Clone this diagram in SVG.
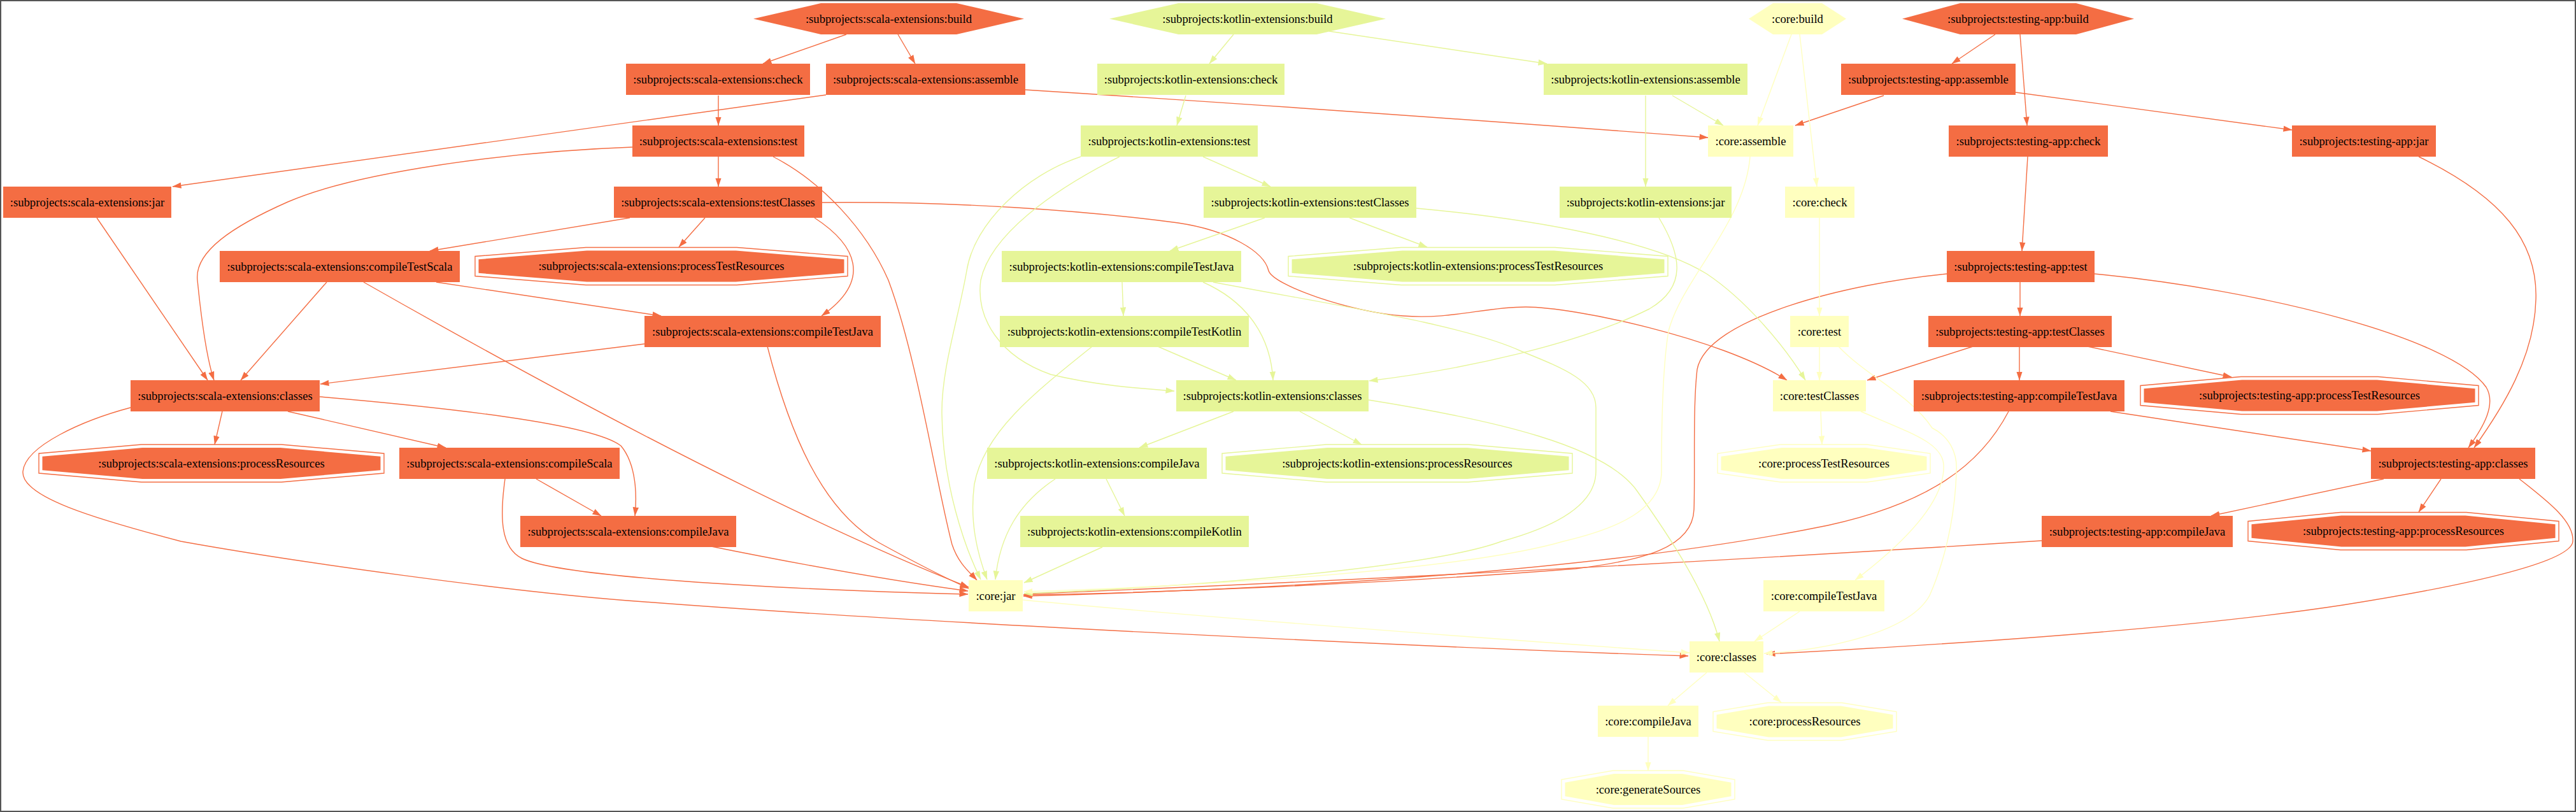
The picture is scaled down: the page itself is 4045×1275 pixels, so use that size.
<svg xmlns="http://www.w3.org/2000/svg" width="4045" height="1275" viewBox="0 0 4045 1275">
<defs>
<style>
.o{fill:#f46d43}.g{fill:#e6f598}.y{fill:#ffffbf}
.oo{fill:none;stroke:#f46d43;stroke-width:1.4}.og{fill:none;stroke:#e6f598;stroke-width:1.4}.oy{fill:none;stroke:#ffffbf;stroke-width:1.4}
text{font-family:"Liberation Serif","Times New Roman",serif;font-size:18.67px;text-anchor:middle;fill:#000}
.eo{fill:none;stroke:#f46d43;stroke-width:1.4;marker-end:url(#ao)}
.eg{fill:none;stroke:#e6f598;stroke-width:1.4;marker-end:url(#ag)}
.ey{fill:none;stroke:#ffffbf;stroke-width:1.4;marker-end:url(#ay)}
</style>
<marker id="ao" markerUnits="userSpaceOnUse" markerWidth="14" markerHeight="10" refX="13.5" refY="5" orient="auto" viewBox="0 0 14 10"><path d="M0,0.3 L14,5 L0,9.7 z" fill="#f46d43"/></marker>
<marker id="ag" markerUnits="userSpaceOnUse" markerWidth="14" markerHeight="10" refX="13.5" refY="5" orient="auto" viewBox="0 0 14 10"><path d="M0,0.3 L14,5 L0,9.7 z" fill="#e6f598"/></marker>
<marker id="ay" markerUnits="userSpaceOnUse" markerWidth="14" markerHeight="10" refX="13.5" refY="5" orient="auto" viewBox="0 0 14 10"><path d="M0,0.3 L14,5 L0,9.7 z" fill="#ffffbf"/></marker>
</defs>
<rect x="1" y="1" width="4043" height="1273" fill="#fff" stroke="#555" stroke-width="2"/>

<g id="edges">
<path class="eo" d="M1329,54 L1198,100"/>
<path class="eo" d="M1410,54 L1437,100"/>
<path class="eo" d="M1297,149 L271,293"/>
<path class="eo" d="M1610,141 Q2100,172 2682,216"/>
<path class="eo" d="M1128,150 L1128,197"/>
<path class="eo" d="M1128,246 L1128,293"/>
<path class="eo" d="M1214,246 C1290,285 1360,360 1395,440 C1440,560 1470,760 1495,855 C1505,885 1522,898 1534,911"/>
<path class="eo" d="M993,231 C800,238 560,270 452,317 C366,355 305,395 310,440 C314,480 322,555 336,597"/>
<path class="eo" d="M152,342 L326,597"/>
<path class="eo" d="M989,342 L675,394"/>
<path class="eo" d="M1107,342 L1066,388"/>
<path class="eo" d="M1279,342 C1345,385 1370,440 1290,496"/>
<path class="eo" d="M1291,318 C1500,316 1700,330 1850,350 C1930,362 1985,395 1992,425 C1999,448 2120,490 2203,496 C2280,502 2330,482 2396,482 C2470,482 2700,530 2806,597"/>
<path class="eo" d="M513,443 L378,597"/>
<path class="eo" d="M571,443 C900,630 1250,815 1521,922"/>
<path class="eo" d="M685,443 L1038,496"/>
<path class="eo" d="M1012,540 L503,603"/>
<path class="eo" d="M1205,544 C1240,680 1290,800 1380,852 C1440,885 1490,910 1521,924"/>
<path class="eo" d="M349,646 L337,698"/>
<path class="eo" d="M452,646 L700,703"/>
<path class="eo" d="M502,623 C700,640 930,665 975,700 C1000,730 1000,780 997,810"/>
<path class="eo" d="M205,640 C130,660 40,700 36,740 C32,780 150,815 284,850 C450,880 800,930 1012,945 C1400,975 2200,1015 2651,1030"/>
<path class="eo" d="M842,752 L944,810"/>
<path class="eo" d="M793,752 C785,810 785,860 820,877 C880,905 1200,925 1520,933"/>
<path class="eo" d="M1117,858 Q1350,905 1520,928"/>
<path class="eo" d="M3133,54 L3065,100"/>
<path class="eo" d="M3172,54 L3183,197"/>
<path class="eo" d="M2958,150 L2819,197"/>
<path class="eo" d="M3165,145 L3599,204"/>
<path class="eo" d="M3184,246 L3175,394"/>
<path class="eo" d="M3798,246 C3930,310 3985,380 3982,470 C3980,560 3930,640 3885,703"/>
<path class="eo" d="M3172,443 L3172,496"/>
<path class="eo" d="M3289,430 C3550,455 3850,530 3904,608 C3920,635 3900,670 3876,703"/>
<path class="eo" d="M3057,430 C2900,445 2680,500 2665,580 C2658,640 2662,740 2660,800 C2658,860 2580,880 2474,893 C2200,915 1800,932 1607,934"/>
<path class="eo" d="M3098,544 L2932,597"/>
<path class="eo" d="M3171,544 L3171,597"/>
<path class="eo" d="M3278,544 L3504,592"/>
<path class="eo" d="M3154,646 C3110,730 3030,790 2870,825 C2600,880 2200,920 1607,936"/>
<path class="eo" d="M3314,646 L3723,708"/>
<path class="eo" d="M3743,752 L3472,810"/>
<path class="eo" d="M3833,752 L3798,804"/>
<path class="eo" d="M3956,752 C4005,790 4042,820 4040,850 C4038,880 3900,915 3679,950 C3450,985 3100,1010 2774,1027"/>
<path class="eo" d="M3206,849 Q2400,900 1608,933"/>
<path class="eg" d="M1937,54 L1899,100"/>
<path class="eg" d="M2087,49 L2429,100"/>
<path class="eg" d="M1862,150 L1848,197"/>
<path class="eg" d="M1889,246 L1995,293"/>
<path class="eg" d="M1758,246 C1650,300 1555,370 1540,440 C1532,500 1570,560 1650,588 C1720,605 1790,610 1844,614"/>
<path class="eg" d="M1697,246 C1610,275 1530,350 1518,425 C1505,500 1478,580 1479,650 C1480,760 1515,860 1540,910"/>
<path class="eg" d="M1986,342 L1837,394"/>
<path class="eg" d="M2119,342 L2241,388"/>
<path class="eg" d="M2224,327 C2420,345 2600,380 2680,430 C2740,470 2800,540 2835,597"/>
<path class="eg" d="M1762,443 L1764,496"/>
<path class="eg" d="M1889,443 C1950,470 1995,520 1999,597"/>
<path class="eg" d="M1905,443 C2100,480 2300,510 2390,552 C2460,580 2506,600 2506,640 L2506,740 C2506,790 2450,825 2358,850 C2250,890 1900,920 1608,932"/>
<path class="eg" d="M1818,544 L1941,597"/>
<path class="eg" d="M1715,544 C1620,620 1545,680 1530,760 C1522,820 1535,870 1550,910"/>
<path class="eg" d="M1937,646 L1789,703"/>
<path class="eg" d="M2041,646 L2138,698"/>
<path class="eg" d="M2149,628 C2350,660 2520,700 2570,770 C2620,840 2680,930 2700,1007"/>
<path class="eg" d="M1737,752 L1766,810"/>
<path class="eg" d="M1657,752 C1600,790 1570,840 1563,910"/>
<path class="eg" d="M1731,859 L1608,915"/>
<path class="eg" d="M2605,342 C2640,400 2650,450 2590,485 C2480,540 2300,580 2150,598"/>
<path class="eg" d="M2584,150 L2584,293"/>
<path class="eg" d="M2626,150 L2706,197"/>
<path class="ey" d="M2813,54 L2760,197"/>
<path class="ey" d="M2826,54 L2853,293"/>
<path class="ey" d="M2857,342 L2857,496"/>
<path class="ey" d="M2857,544 L2857,597"/>
<path class="ey" d="M2859,646 L2861,698"/>
<path class="ey" d="M2748,246 C2740,350 2640,440 2620,520 C2610,580 2609,680 2609,740 C2609,800 2540,830 2455,850 C2300,895 1900,920 1608,929"/>
<path class="ey" d="M2887,544 C2930,590 3000,620 3034,672 C3060,685 3074,710 3072,740 C3070,820 3050,890 3030,935 C3000,990 2880,1020 2770,1026"/>
<path class="ey" d="M2922,646 C3000,680 3050,695 3052,730 C3055,790 2980,860 2913,911"/>
<path class="ey" d="M2826,960 L2755,1007"/>
<path class="ey" d="M1606,942 C1900,970 2300,1000 2653,1025"/>
<path class="ey" d="M2680,1056 L2619,1108"/>
<path class="ey" d="M2739,1056 L2797,1103"/>
<path class="ey" d="M2588,1157 L2588,1210"/>
</g>

<g id="s_build"><polygon class="o" points="1183,29.5 1289,5 1502,5 1608,29.5 1502,54 1289,54"/><text x="1395.5" y="35.5">:subprojects:scala-extensions:build</text></g>
<g id="s_check"><rect class="o" x="983" y="100" width="289" height="49"/><text x="1127.5" y="130.5">:subprojects:scala-extensions:check</text></g>
<g id="s_assemble"><rect class="o" x="1297" y="100" width="313" height="49"/><text x="1453.5" y="130.5">:subprojects:scala-extensions:assemble</text></g>
<g id="s_test"><rect class="o" x="993" y="197" width="270" height="49"/><text x="1128" y="227.5">:subprojects:scala-extensions:test</text></g>
<g id="s_jar"><rect class="o" x="5" y="293" width="264" height="49"/><text x="137" y="323.5">:subprojects:scala-extensions:jar</text></g>
<g id="s_testClasses"><rect class="o" x="964" y="293" width="327" height="49"/><text x="1127.5" y="323.5">:subprojects:scala-extensions:testClasses</text></g>
<g id="s_compileTestScala"><rect class="o" x="345" y="394" width="377" height="49"/><text x="533.5" y="424.5">:subprojects:scala-extensions:compileTestScala</text></g>
<g id="s_processTestResources"><polygon class="oo" points="920,388.5 1157,388.5 1331,402.5 1331,433.5 1157,447.5 920,447.5 746,433.5 746,402.5"/><polygon class="o" points="921.5,393.5 1155.5,393.5 1325.5,407.2 1325.5,428.8 1155.5,442.5 921.5,442.5 751.5,428.8 751.5,407.2"/><text x="1038.5" y="424">:subprojects:scala-extensions:processTestResources</text></g>
<g id="s_compileTestJava"><rect class="o" x="1012" y="496" width="371" height="49"/><text x="1197.5" y="526.5">:subprojects:scala-extensions:compileTestJava</text></g>
<g id="s_classes"><rect class="o" x="205" y="597" width="297" height="49"/><text x="353.5" y="627.5">:subprojects:scala-extensions:classes</text></g>
<g id="s_processResources"><polygon class="oo" points="222.2,698 441.8,698 603,712 603,743 441.8,757 222.2,757 61,743 61,712"/><polygon class="o" points="223.7,703 440.3,703 597.5,716.7 597.5,738.3 440.3,752 223.7,752 66.5,738.3 66.5,716.7"/><text x="332" y="733.5">:subprojects:scala-extensions:processResources</text></g>
<g id="s_compileScala"><rect class="o" x="627" y="703" width="346" height="49"/><text x="800" y="733.5">:subprojects:scala-extensions:compileScala</text></g>
<g id="s_compileJava"><rect class="o" x="817" y="810" width="339" height="49"/><text x="986.5" y="840.5">:subprojects:scala-extensions:compileJava</text></g>

<g id="k_build"><polygon class="g" points="1742,29.5 1850.5,5 2067.5,5 2176,29.5 2067.5,54 1850.5,54"/><text x="1959" y="35.5">:subprojects:kotlin-extensions:build</text></g>
<g id="k_check"><rect class="g" x="1723" y="100" width="294" height="49"/><text x="1870" y="130.5">:subprojects:kotlin-extensions:check</text></g>
<g id="k_assemble"><rect class="g" x="2424" y="100" width="320" height="49"/><text x="2584" y="130.5">:subprojects:kotlin-extensions:assemble</text></g>
<g id="k_test"><rect class="g" x="1697" y="197" width="278" height="49"/><text x="1836" y="227.5">:subprojects:kotlin-extensions:test</text></g>
<g id="k_testClasses"><rect class="g" x="1890" y="293" width="334" height="49"/><text x="2057" y="323.5">:subprojects:kotlin-extensions:testClasses</text></g>
<g id="k_jar"><rect class="g" x="2449" y="293" width="270" height="49"/><text x="2584" y="323.5">:subprojects:kotlin-extensions:jar</text></g>
<g id="k_processTestResources"><polygon class="og" points="2200.3,388.5 2441.7,388.5 2619,402.5 2619,433.5 2441.7,447.5 2200.3,447.5 2023,433.5 2023,402.5"/><polygon class="g" points="2201.8,393.5 2440.2,393.5 2613.5,407.2 2613.5,428.8 2440.2,442.5 2201.8,442.5 2028.5,428.8 2028.5,407.2"/><text x="2321" y="424">:subprojects:kotlin-extensions:processTestResources</text></g>
<g id="k_compileTestJava"><rect class="g" x="1573" y="394" width="376" height="49"/><text x="1761" y="424.5">:subprojects:kotlin-extensions:compileTestJava</text></g>
<g id="k_compileTestKotlin"><rect class="g" x="1570" y="496" width="391" height="49"/><text x="1765.5" y="526.5">:subprojects:kotlin-extensions:compileTestKotlin</text></g>
<g id="k_classes"><rect class="g" x="1847" y="597" width="302" height="49"/><text x="1998" y="627.5">:subprojects:kotlin-extensions:classes</text></g>
<g id="k_compileJava"><rect class="g" x="1550" y="703" width="345" height="49"/><text x="1722.5" y="733.5">:subprojects:kotlin-extensions:compileJava</text></g>
<g id="k_processResources"><polygon class="og" points="2082.6,698 2305.4,698 2469,712 2469,743 2305.4,757 2082.6,757 1919,743 1919,712"/><polygon class="g" points="2084.1,703 2303.9,703 2463.5,716.7 2463.5,738.3 2303.9,752 2084.1,752 1924.5,738.3 1924.5,716.7"/><text x="2194" y="733.5">:subprojects:kotlin-extensions:processResources</text></g>
<g id="k_compileKotlin"><rect class="g" x="1602" y="810" width="359" height="49"/><text x="1781.5" y="840.5">:subprojects:kotlin-extensions:compileKotlin</text></g>

<g id="c_build"><polygon class="y" points="2746,29.5 2784,5 2861,5 2899,29.5 2861,54 2784,54"/><text x="2822.5" y="35.5">:core:build</text></g>
<g id="c_assemble"><rect class="y" x="2682" y="197" width="134" height="49"/><text x="2749" y="227.5">:core:assemble</text></g>
<g id="c_check"><rect class="y" x="2803" y="293" width="109" height="49"/><text x="2857.5" y="323.5">:core:check</text></g>
<g id="c_test"><rect class="y" x="2811" y="496" width="92" height="49"/><text x="2857" y="526.5">:core:test</text></g>
<g id="c_testClasses"><rect class="y" x="2784" y="597" width="146" height="49"/><text x="2857" y="627.5">:core:testClasses</text></g>
<g id="c_processTestResources"><polygon class="oy" points="2796.4,698 2931.6,698 3031,712 3031,743 2931.6,757 2796.4,757 2697,743 2697,712"/><polygon class="y" points="2797.9,703 2930.1,703 3025.5,716.7 3025.5,738.3 2930.1,752 2797.9,752 2702.5,738.3 2702.5,716.7"/><text x="2864" y="733.5">:core:processTestResources</text></g>
<g id="c_jar"><rect class="y" x="1521" y="911" width="85" height="49"/><text x="1563.5" y="941.5">:core:jar</text></g>
<g id="c_compileTestJava"><rect class="y" x="2769" y="911" width="190" height="49"/><text x="2864" y="941.5">:core:compileTestJava</text></g>
<g id="c_classes"><rect class="y" x="2653" y="1007" width="116" height="49"/><text x="2711" y="1037.5">:core:classes</text></g>
<g id="c_compileJava"><rect class="y" x="2509" y="1108" width="158" height="49"/><text x="2588" y="1138.5">:core:compileJava</text></g>
<g id="c_processResources"><polygon class="oy" points="2775.7,1103.5 2892.3,1103.5 2978,1117.5 2978,1148.5 2892.3,1162.5 2775.7,1162.5 2690,1148.5 2690,1117.5"/><polygon class="y" points="2777.2,1108.5 2890.8,1108.5 2972.5,1122.2 2972.5,1143.8 2890.8,1157.5 2777.2,1157.5 2695.5,1143.8 2695.5,1122.2"/><text x="2834" y="1139">:core:processResources</text></g>
<g id="c_generateSources"><polygon class="oy" points="2532.9,1210 2643.1,1210 2724,1224 2724,1255 2643.1,1269 2532.9,1269 2452,1255 2452,1224"/><polygon class="y" points="2534.4,1215 2641.6,1215 2718.5,1228.7 2718.5,1250.3 2641.6,1264 2534.4,1264 2457.5,1250.3 2457.5,1228.7"/><text x="2588" y="1245.5">:core:generateSources</text></g>

<g id="t_build"><polygon class="o" points="2987,29.5 3078,5 3260,5 3351,29.5 3260,54 3078,54"/><text x="3169" y="35.5">:subprojects:testing-app:build</text></g>
<g id="t_assemble"><rect class="o" x="2891" y="100" width="274" height="49"/><text x="3028" y="130.5">:subprojects:testing-app:assemble</text></g>
<g id="t_check"><rect class="o" x="3060" y="197" width="250" height="49"/><text x="3185" y="227.5">:subprojects:testing-app:check</text></g>
<g id="t_jar"><rect class="o" x="3599" y="197" width="226" height="49"/><text x="3712" y="227.5">:subprojects:testing-app:jar</text></g>
<g id="t_test"><rect class="o" x="3057" y="394" width="232" height="49"/><text x="3173" y="424.5">:subprojects:testing-app:test</text></g>
<g id="t_testClasses"><rect class="o" x="3028" y="496" width="288" height="49"/><text x="3172" y="526.5">:subprojects:testing-app:testClasses</text></g>
<g id="t_compileTestJava"><rect class="o" x="3005" y="597" width="331" height="49"/><text x="3170.5" y="627.5">:subprojects:testing-app:compileTestJava</text></g>
<g id="t_processTestResources"><polygon class="oo" points="3519,591.5 3734,591.5 3892,605.5 3892,636.5 3734,650.5 3519,650.5 3361,636.5 3361,605.5"/><polygon class="o" points="3520.5,596.5 3732.5,596.5 3886.5,610.2 3886.5,631.8 3732.5,645.5 3520.5,645.5 3366.5,631.8 3366.5,610.2"/><text x="3626.5" y="627">:subprojects:testing-app:processTestResources</text></g>
<g id="t_classes"><rect class="o" x="3723" y="703" width="258" height="49"/><text x="3852" y="733.5">:subprojects:testing-app:classes</text></g>
<g id="t_compileJava"><rect class="o" x="3206" y="810" width="300" height="49"/><text x="3356" y="840.5">:subprojects:testing-app:compileJava</text></g>
<g id="t_processResources"><polygon class="oo" points="3675.2,804.5 3872.8,804.5 4018,818.5 4018,849.5 3872.8,863.5 3675.2,863.5 3530,849.5 3530,818.5"/><polygon class="o" points="3676.7,809.5 3871.3,809.5 4012.5,823.2 4012.5,844.8 3871.3,858.5 3676.7,858.5 3535.5,844.8 3535.5,823.2"/><text x="3774" y="840">:subprojects:testing-app:processResources</text></g>
</svg>
